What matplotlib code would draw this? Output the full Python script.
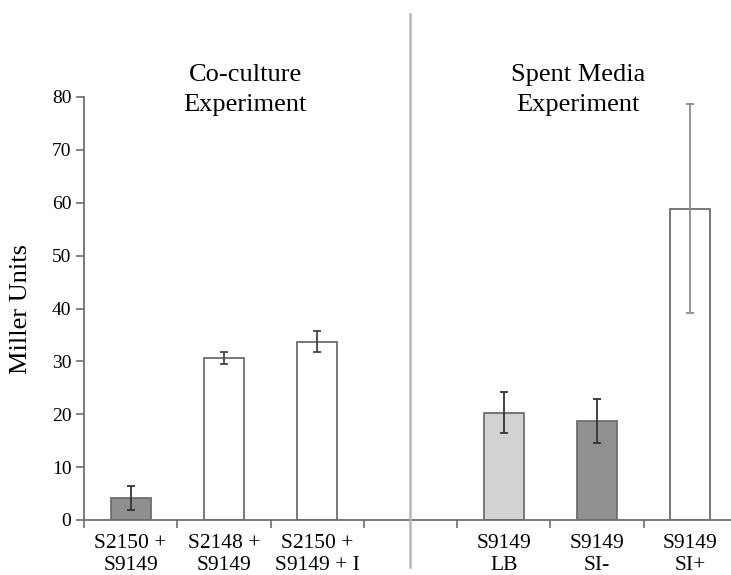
import numpy as np
import matplotlib.pyplot as plt
from matplotlib.lines import Line2D

plt.rcParams['font.family'] = ['Liberation Serif', 'DejaVu Serif']

# Miller units per strain combination
labels = ['S2150 +\nS9149', 'S2148 +\nS9149', 'S2150 +\nS9149 + I',
          'S9149\nLB', 'S9149\nSI-', 'S9149\nSI+']
values = [4.1, 30.7, 33.7, 20.3, 18.7, 58.9]
errors = [2.3, 1.15, 2.0, 3.9, 4.2, 19.7]
group = ['co', 'co', 'co', 'spent', 'spent', 'spent']
fills = ['#8f8f8f', 'white', 'white', '#d2d2d2', '#909090', 'white']
err_colors = ['#333333', '#444444', '#444444', '#333333', '#333333', '#8c8c8c']

W, H = 731, 575
fig = plt.figure(figsize=(W / 100, H / 100), dpi=100)
ax = fig.add_axes([84 / W, 55 / H, (737 - 84) / W, (520 - 97) / H])

# one empty slot between the two experiments
slot = np.arange(len(values)) + np.array([g == 'spent' for g in group])
x = slot + 0.5

ax.bar(x, values, width=0.43, color=fills, edgecolor='#6e6e6e', linewidth=1.3, zorder=2)
for xi, v, e, c in zip(x, values, errors, err_colors):
    ax.errorbar(xi, v, yerr=e, fmt='none', ecolor=c, elinewidth=1.3,
                capsize=3.2, capthick=1.3, zorder=3)

ax.set_xlim(0, 7)
ax.set_ylim(0, 80)
ax.set_yticks(np.arange(0, 81, 10))
ax.set_xticks(np.arange(0, 8))
ax.set_xticklabels([])
ax.set_xticks(x, minor=True)
ax.set_xticklabels(labels, minor=True, fontsize=15.5, linespacing=1.22)
ax.tick_params(axis='x', which='major', direction='out', length=6, width=1.2, color='#6e6e6e')
ax.tick_params(axis='x', which='minor', length=0, pad=10)
ax.tick_params(axis='y', direction='out', length=6, width=1.2, color='#6e6e6e',
               labelsize=14, pad=3)
for s in ['top', 'right']:
    ax.spines[s].set_visible(False)
for s in ['left', 'bottom']:
    ax.spines[s].set_color('#6e6e6e')
    ax.spines[s].set_linewidth(1.3)

ax.set_ylabel('Miller Units', fontsize=19, labelpad=14)

# separator between the experiments
fig.add_artist(Line2D([410 / W, 410 / W], [1 - 567 / H, 1 - 14 / H],
                      color='#b5b5b5', linewidth=1.8))

fig.text(245 / W, 1 - 116 / H, 'Co-culture\nExperiment', ha='center', va='bottom',
         fontsize=19, linespacing=1.45)
fig.text(578 / W, 1 - 116 / H, 'Spent Media\nExperiment', ha='center', va='bottom',
         fontsize=19, linespacing=1.45)

fig.savefig('out.png', dpi=100)
